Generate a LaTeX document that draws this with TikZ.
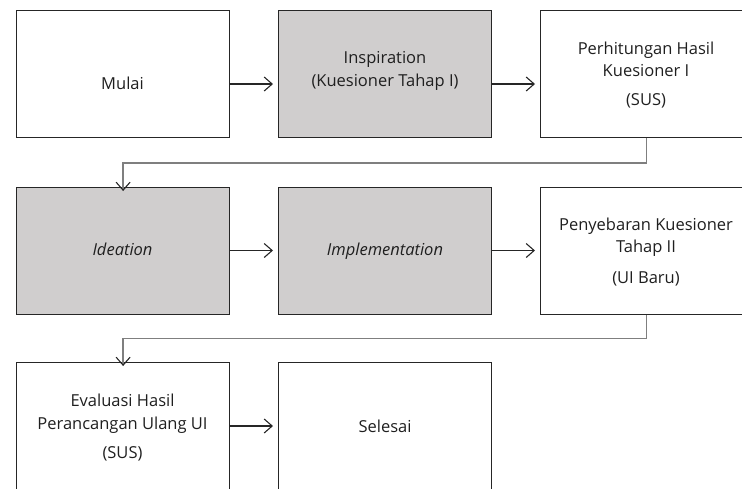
\documentclass[tikz,border=0pt]{standalone}
\usepackage{fontspec}
\setmainfont{Open Sans}
\usetikzlibrary{arrows.meta}
\definecolor{boxgray}{HTML}{D0CECE}
\definecolor{linedark}{HTML}{262626}
\definecolor{elbowgray}{HTML}{7F7F7F}
\begin{document}
\begin{tikzpicture}[x=1pt,y=-1pt,
  box/.style={draw=linedark,line width=1.2pt,minimum width=213pt,minimum height=127pt,anchor=north west,inner sep=0pt},
  grey/.style={fill=boxgray},
  txt/.style={anchor=base,inner sep=0pt,font=\fontsize{16.5}{19}\selectfont,text=black!88},
  arr/.style={draw=linedark,line width=1.1pt,-{Straight Barb[length=8pt,width=14pt,line width=1.1pt]}},
  elbow/.style={draw=elbowgray,line width=1.5pt,-{Straight Barb[length=8pt,width=14pt,line width=1.1pt,color=linedark]}}
]
\useasboundingbox (0,0) rectangle (742,488);
\clip (0,0) rectangle (742,488);
% row 1
\node[box] (mulai) at (16,10) {};
\node[box,grey] (insp) at (278,10) {};
\node[box] (hit) at (540,10) {};
% row 2
\node[box,grey] (idea) at (16,187) {};
\node[box,grey] (impl) at (278,187) {};
\node[box] (sebar) at (540,187) {};
% row 3
\node[box] (eval) at (16,362) {};
\node[box] (selesai) at (278,362) {};
% texts
\node[txt] (t1) at (122.5,89) {Mulai};
\node[txt] (t2a) at (385,63) {Inspiration};
\node[txt] (t2b) at (385,86) {(Kuesioner Tahap I)};
\node[txt] (t3a) at (646,54) {Perhitungan Hasil};
\node[txt] (t3b) at (646,76) {Kuesioner I};
\node[txt] (t3c) at (646,105) {(SUS)};
\node[txt] (t4) at (122.5,255.5) {\itshape Ideation};
\node[txt] (t5) at (385,255.5) {\itshape Implementation};
\node[txt] (t6a) at (646,230) {Penyebaran Kuesioner};
\node[txt] (t6b) at (646,252) {Tahap II};
\node[txt] (t6c) at (646,283) {(UI Baru)};
\node[txt] (t7a) at (122.5,406) {Evaluasi Hasil};
\node[txt] (t7b) at (122.5,429) {Perancangan Ulang UI};
\node[txt] (t7c) at (122.5,458) {(SUS)};
\node[txt] (t8) at (385,432.5) {Selesai};
% coordinates for arrows
\coordinate (a1s) at (mulai.east |- 0,84);
\coordinate (a1e) at ([xshift=-5pt]insp.west |- 0,84);
\coordinate (a2s) at (insp.east |- 0,84);
\coordinate (a2e) at ([xshift=-5pt]hit.west |- 0,84);
\coordinate (a3s) at (idea.east |- 0,250.5);
\coordinate (a3e) at ([xshift=-5pt]impl.west |- 0,250.5);
\coordinate (a4s) at (impl.east |- 0,250.5);
\coordinate (a4e) at ([xshift=-5pt]sebar.west |- 0,250.5);
\coordinate (a5s) at (eval.east |- 0,426);
\coordinate (a5e) at ([xshift=-5pt]selesai.west |- 0,426);
\draw[arr] (a1s) -- (a1e);
\draw[arr] (a2s) -- (a2e);
\draw[arr] (a3s) -- (a3e);
\draw[arr] (a4s) -- (a4e);
\draw[arr] (a5s) -- (a5e);
% elbows
\coordinate (e1) at ([xshift=-0.5pt]hit.south);
\coordinate (e1t) at ([yshift=-4pt]idea.north);
\draw[elbow] (e1) -- (e1 |- 0,163) -- (e1t |- 0,163) -- (e1t);
\coordinate (e2) at ([xshift=-0.5pt]sebar.south);
\coordinate (e2t) at ([yshift=-4pt]eval.north);
\draw[elbow] (e2) -- (e2 |- 0,338.5) -- (e2t |- 0,338.5) -- (e2t);
\end{tikzpicture}
\end{document}
